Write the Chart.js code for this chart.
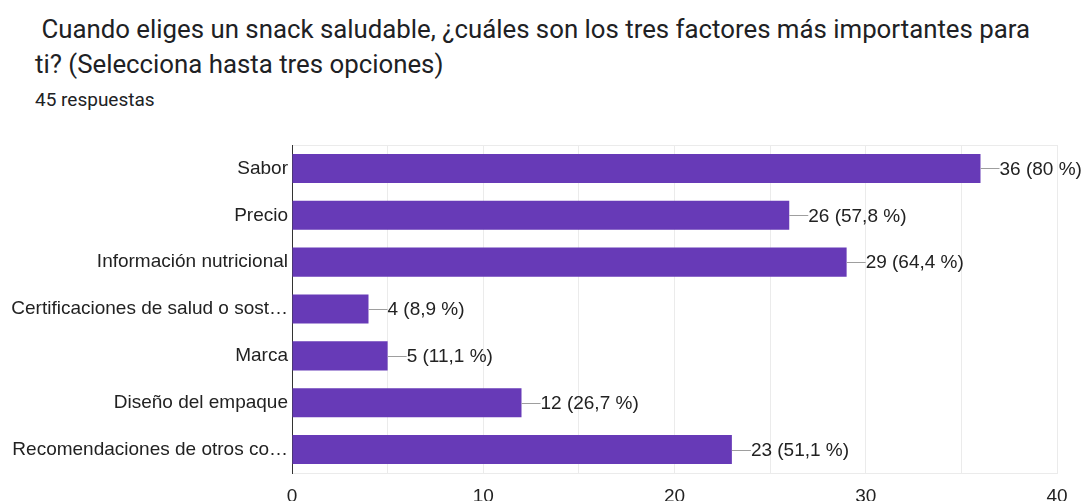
<!DOCTYPE html>
<html>
<head>
<meta charset="utf-8">
<script src="https://cdn.jsdelivr.net/npm/chart.js@4"></script>
<style>
  html, body { margin: 0; padding: 0; width: 1086px; height: 501px; overflow: hidden; background: #fff; }
  .title { position: absolute; left: 35px; top: 12px; font-family: Roboto, sans-serif; font-size: 25.8px;
           line-height: 35px; color: #202124; white-space: pre; }
  .sub { position: absolute; left: 35px; top: 89px; font-family: Roboto, sans-serif; font-size: 19px;
         line-height: 22px; color: #202124; }
  #wrap { position: absolute; left: 0; top: 120px; width: 1086px; height: 393px; }
</style>
</head>
<body>
<div class="title"> Cuando eliges un snack saludable, ¿cuáles son los tres factores más importantes para
ti? (Selecciona hasta tres opciones)</div>
<div class="sub">45 respuestas</div>
<div id="wrap"><canvas id="chart"></canvas></div>
<script>
var categories = ["Sabor", "Precio", "Información nutricional", "Certificaciones de salud o sost…",
                  "Marca", "Diseño del empaque", "Recomendaciones de otros co…"];
var counts = [36, 26, 29, 4, 5, 12, 23];
var totalResponses = 45;
var xTicks = [0, 10, 20, 30, 40];

// "29 (64,4 %)" style labels
function pctLabel(v) {
    var p = Math.round(v / totalResponses * 1000) / 10;
    var s = (p % 1 === 0) ? String(p) : p.toFixed(1).replace(".", ",");
    return v + " (" + s + " %)";
}

var barLabels = {
    id: "barLabels",
    afterDatasetsDraw: function(chart) {
        var ctx = chart.ctx;
        var meta = chart.getDatasetMeta(0);
        ctx.save();
        ctx.font = "19px 'Liberation Sans', Arial, sans-serif";
        ctx.textBaseline = "middle";
        ctx.fillStyle = "#222";
        meta.data.forEach(function(bar, i) {
            ctx.strokeStyle = "#9e9e9e";
            ctx.lineWidth = 1;
            ctx.beginPath();
            ctx.moveTo(bar.x, Math.round(bar.y) + 0.5);
            ctx.lineTo(bar.x + 19, Math.round(bar.y) + 0.5);
            ctx.stroke();
            ctx.fillText(pctLabel(counts[i]), bar.x + 19, bar.y + 1);
        });
        ctx.restore();
    }
};

new Chart(document.getElementById("chart"), {
    type: "bar",
    data: {
        labels: categories,
        datasets: [{
            data: counts,
            backgroundColor: "#673ab7",
            barPercentage: 0.62,
            categoryPercentage: 1.0
        }]
    },
    options: {
        indexAxis: "y",
        responsive: true,
        maintainAspectRatio: false,
        animation: false,
        layout: { padding: { top: 25, right: 29 } },
        plugins: { legend: { display: false }, tooltip: { enabled: false } },
        scales: {
            x: {
                min: 0, max: 40,
                grid: { color: "#ebebeb", drawTicks: false },
                border: { display: true, color: "#ebebeb" },
                ticks: {
                    stepSize: 5,
                    padding: 12,
                    color: "#222",
                    font: { family: "'Liberation Sans', Arial, sans-serif", size: 19 },
                    callback: function(v) { return xTicks.indexOf(v) >= 0 ? v : ""; }
                },
                afterFit: function(s) { s.height = 40; }
            },
            y: {
                grid: {
                    offset: true,
                    drawTicks: false,
                    color: function(c) { return (c.index === 0 || c.index === categories.length) ? "#ebebeb" : "rgba(0,0,0,0)"; }
                },
                border: { display: true, color: "#333", width: 1 },
                ticks: {
                    padding: 4,
                    color: "#222",
                    font: { family: "'Liberation Sans', Arial, sans-serif", size: 19 }
                },
                afterFit: function(s) { s.width = 292; }
            }
        }
    },
    plugins: [barLabels]
});
</script>
</body>
</html>
